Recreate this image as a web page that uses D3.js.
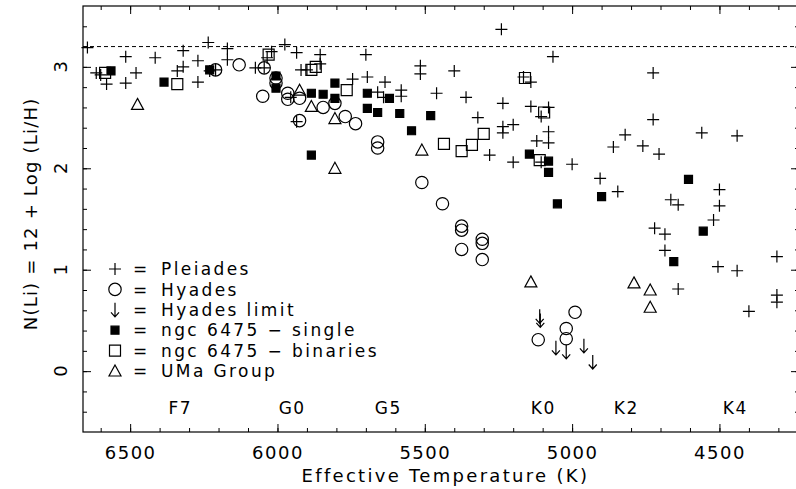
<!DOCTYPE html>
<html>
<head>
<meta charset="utf-8">
<script src="https://cdn.jsdelivr.net/npm/d3@7"></script>
<style>
  body { margin: 0; background: #fff; }
  svg text { font-family: "DejaVu Sans", sans-serif; fill: #000; }
</style>
</head>
<body>
<svg id="chart" width="796" height="489"></svg>
<script>
// [Teff, N(Li)]
const pleiades = [
  [6645,3.19],[6615,2.94],[6600,2.92],[6580,2.83],[6515,3.10],[6515,2.84],[6480,2.94],[6415,3.09],
  [6340,2.96],[6320,3.00],[6320,3.16],[6270,3.06],[6270,2.85],[6235,3.24],[6230,2.96],[6210,2.97],
  [6170,3.18],[6170,3.07],[6075,2.99],[6045,2.99],[6035,3.09],[6020,3.15],[5975,3.22],[5935,3.14],
  [5855,3.12],[5855,3.03],[5920,2.97],[5900,2.97],[5955,2.70],[5935,2.46],[5745,2.88],[5700,3.12],
  [5695,2.90],[5635,2.85],[5660,2.75],[5640,2.70],[5580,2.77],[5580,2.71],[5515,3.01],[5515,2.93],
  [5460,2.74],[5400,2.96],[5360,2.70],[5320,2.50],[5240,3.37],[5235,2.64],[5235,2.41],[5235,2.35],
  [5200,2.43],[5165,2.90],[5140,2.85],[5140,2.61],[5080,2.60],[5105,2.51],[5065,3.10],[5280,2.13],
  [5200,2.06],[5120,2.27],[5080,2.36],[5080,2.25],[5105,2.06],[5000,2.04],[4905,1.90],[4845,1.77],
  [4860,2.21],[4820,2.33],[4760,2.22],[4705,2.14],[4725,2.94],[4725,2.48],[4560,2.35],[4440,2.32],
  [4500,1.79],[4500,1.63],[4520,1.49],[4665,1.69],[4640,1.64],[4720,1.41],[4685,1.35],[4685,1.19],
  [4505,1.03],[4440,0.99],[4305,1.13],[4640,0.81],[4305,0.75],[4305,0.68],[4400,0.59]
];
const hyades = [
  [6210,2.97],[6130,3.02],[6045,2.99],[6050,2.71],[6005,2.89],[6005,2.84],[5965,2.74],[5965,2.68],
  [5925,2.69],[5925,2.47],[5845,2.60],[5805,2.64],[5770,2.51],[5735,2.44],[5660,2.26],[5660,2.20],
  [5510,1.86],[5440,1.65],[5375,1.43],[5375,1.39],[5375,1.20],[5305,1.30],[5305,1.26],[5305,1.10],
  [4990,0.58],[5020,0.42],[5020,0.32],[5115,0.31]
];
const hyadesLimit = [
  [5110,0.54],[5108,0.50],[5055,0.23],[5020,0.19],[4960,0.25],[4930,0.09]
];
const ngcSingle = [
  [6565,2.96],[6385,2.85],[6230,2.97],[6005,2.91],[6005,2.79],[5885,2.74],[5845,2.73],[5805,2.84],
  [5805,2.69],[5885,2.13],[5695,2.74],[5620,2.69],[5695,2.59],[5660,2.55],[5585,2.54],[5480,2.52],
  [5545,2.37],[5145,2.14],[5080,2.07],[5080,1.96],[5050,1.65],[4900,1.72],[4605,1.89],[4555,1.38],
  [4655,1.08]
];
const ngcBinary = [
  [6585,2.94],[6340,2.83],[6030,3.12],[5885,2.97],[5870,3.00],[5765,2.77],[5435,2.24],[5375,2.17],
  [5340,2.23],[5300,2.34],[5160,2.89],[5095,2.55],[5110,2.08]
];
const umaGroup = [
  [6475,2.63],[5925,2.77],[5885,2.61],[5805,2.49],[5805,2.00],[5510,2.18],[5140,0.88],[4790,0.87],
  [4735,0.80],[4735,0.63]
];
const spectralTypes = ['F7','G0','G5','K0','K2','K4'];
const spectralTeff = [6330, 5950, 5624, 5098, 4816, 4446];
const solarLi = 3.2;
const legendLabels = ['Pleiades','Hyades','Hyades limit','ngc 6475 \u2212 single','ngc 6475 \u2212 binaries','UMa Group'];

const svg = d3.select('#chart');
const width = 796, height = 489;
const margin = { top: 6, right: -3, bottom: 57, left: 83 };
const innerWidth = width - margin.left - margin.right;
const innerHeight = height - margin.top - margin.bottom;

const x = d3.scaleLinear().domain([6660, 4230]).range([0, innerWidth]);
const y = d3.scaleLinear().domain([-0.6, 3.6]).range([innerHeight, 0]);

const g = svg.append('g').attr('transform', `translate(${margin.left},${margin.top})`);

// ticks (inward, major + minor on all sides)
const majX = d3.range(4500, 6501, 500), minX = d3.range(4300, 6601, 100);
const majY = [0, 1, 2, 3], minY = d3.range(-0.4, 3.5, 0.2);
const tickAxes = [
  [d3.axisBottom(x).tickValues(majX).tickSize(-8).tickPadding(14).tickFormat(d3.format('d')), `translate(0,${innerHeight})`],
  [d3.axisBottom(x).tickValues(minX).tickSize(-4).tickFormat(''), `translate(0,${innerHeight})`],
  [d3.axisTop(x).tickValues(majX).tickSize(-8).tickFormat(''), null],
  [d3.axisTop(x).tickValues(minX).tickSize(-4).tickFormat(''), null],
  [d3.axisLeft(y).tickValues(majY).tickSize(-8).tickFormat(''), null],
  [d3.axisLeft(y).tickValues(minY).tickSize(-4).tickFormat(''), null],
  [d3.axisRight(y).tickValues(majY).tickSize(-8).tickFormat(''), `translate(${innerWidth},0)`],
  [d3.axisRight(y).tickValues(minY).tickSize(-4).tickFormat(''), `translate(${innerWidth},0)`]
];
tickAxes.forEach(([ax, tr]) => {
  const a = g.append('g').call(ax);
  if (tr) a.attr('transform', tr);
  a.select('.domain').remove();
  a.selectAll('line').attr('stroke', '#000').attr('stroke-width', 1);
  a.selectAll('text').filter(function() { return this.textContent === ''; }).remove();
  a.selectAll('text').style('font-size', '18px')
    .style('font-family', '"DejaVu Sans", sans-serif').style('letter-spacing', '1.5px');
});

// y tick labels, turned on their side as in the original
g.selectAll('.ylab')
  .data(majY)
  .enter()
  .append('text')
  .attr('class', 'ylab')
  .attr('transform', d => `translate(-22,${y(d)}) rotate(-90)`)
  .attr('dy', '0.36em')
  .attr('text-anchor', 'middle')
  .style('font-size', '18px')
  .text(d => d);

g.append('rect')
  .attr('width', innerWidth).attr('height', innerHeight)
  .attr('fill', 'none').attr('stroke', '#000').attr('stroke-width', 1.2);

// solar meteoritic Li line
g.append('line')
  .attr('x1', 0).attr('x2', innerWidth)
  .attr('y1', y(solarLi)).attr('y2', y(solarLi))
  .attr('stroke', '#000').attr('stroke-width', 1).attr('stroke-dasharray', '4,3');

function styled(sel, fill) {
  return sel.attr('stroke', '#000').attr('stroke-width', 1.2).attr('fill', fill);
}
const shapes = {
  plus: 'M-6,0H6M0,-6V6',
  arrow: 'M0,-7V7M-4,2.5L0,7L4,2.5',
  circle: d3.symbol(d3.symbolCircle, 120)(),
  filled: 'M-4,-4H4V4H-4Z',
  square: 'M-5.5,-5.5H5.5V5.5H-5.5Z',
  triangle: 'M0,-6L6,5H-6Z'
};
const series = [
  [pleiades, 'plus', 'none'],
  [hyades, 'circle', 'none'],
  [hyadesLimit, 'arrow', 'none'],
  [ngcSingle, 'filled', '#000'],
  [ngcBinary, 'square', 'none'],
  [umaGroup, 'triangle', 'none']
];
series.forEach(([data, shape, fill]) => {
  styled(g.append('g').selectAll('path')
    .data(data)
    .enter()
    .append('path')
    .attr('d', shapes[shape])
    .attr('transform', d => `translate(${x(d[0])},${y(d[1])})`), fill);
});

// spectral type labels
g.selectAll('.sp')
  .data(spectralTypes)
  .enter()
  .append('text')
  .attr('class', 'sp')
  .attr('x', (d, i) => x(spectralTeff[i]))
  .attr('y', y(-0.36))
  .attr('dy', '0.36em')
  .attr('text-anchor', 'middle')
  .style('font-size', '17px')
  .style('letter-spacing', '1.5px')
  .text(d => d);

// legend
const legend = g.append('g').attr('transform', 'translate(32,263)');
legendLabels.forEach((lab, i) => {
  const row = legend.append('g').attr('transform', `translate(0,${i * 20.4})`);
  const [, shape, fill] = series[i];
  styled(row.append('path').attr('d', shapes[shape]), fill);
  row.append('text').attr('x', 25).attr('dy', '0.36em').attr('text-anchor', 'middle')
    .style('font-size', '17px').text('=');
  row.append('text').attr('x', 46).attr('dy', '0.36em')
    .style('font-size', '17px').style('letter-spacing', '2.4px').text(lab);
});

// axis titles
g.append('text')
  .attr('text-anchor', 'middle')
  .attr('x', x(5430))
  .attr('y', innerHeight + 50)
  .style('font-size', '18px')
  .style('letter-spacing', '2.3px')
  .text('Effective Temperature (K)');
g.append('text')
  .attr('transform', 'rotate(-90)')
  .attr('text-anchor', 'middle')
  .attr('x', -y(1.55))
  .attr('y', -46)
  .style('font-size', '18px')
  .style('letter-spacing', '1.2px')
  .text('N(Li) = 12 + Log (Li/H)');
</script>
</body>
</html>
